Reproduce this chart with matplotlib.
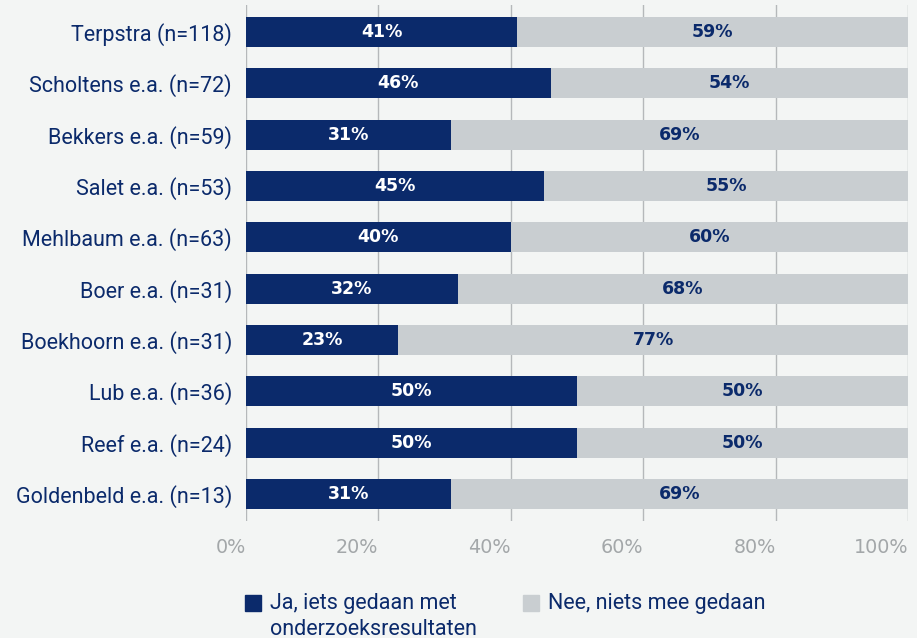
import numpy as np
import matplotlib.pyplot as plt
from matplotlib.patches import Rectangle
from matplotlib.transforms import ScaledTranslation

# data
studies = ["Terpstra (n=118)", "Scholtens e.a. (n=72)", "Bekkers e.a. (n=59)",
           "Salet e.a. (n=53)", "Mehlbaum e.a. (n=63)", "Boer e.a. (n=31)",
           "Boekhoorn e.a. (n=31)", "Lub e.a. (n=36)", "Reef e.a. (n=24)",
           "Goldenbeld e.a. (n=13)"]
ja = [41, 46, 31, 45, 40, 32, 23, 50, 50, 31]
nee = [59, 54, 69, 55, 60, 68, 77, 50, 50, 69]
series_labels = ["Ja, iets gedaan met\nonderzoeksresultaten", "Nee, niets mee gedaan"]
xticks = [0, 20, 40, 60, 80, 100]

navy = "#0b2a6b"
grey = "#c9ced1"
bg = "#f3f5f4"
gridc = "#b5b8ba"
tickc = "#a3a7a9"

plt.rcParams["font.family"] = ["Roboto", "DejaVu Sans"]

fig = plt.figure(figsize=(9.17, 6.38), dpi=100, facecolor=bg)
ax = fig.add_axes([246 / 917, 1 - 521 / 638, 662 / 917, 516 / 638])
ax.set_facecolor(bg)

y = np.arange(len(studies))
ax.barh(y, ja, height=0.58, color=navy, zorder=3)
ax.barh(y, nee, left=ja, height=0.58, color=grey, zorder=3)

for i in range(len(studies)):
    ax.text(ja[i] / 2, y[i], f"{ja[i]}%", ha="center", va="center",
            color="white", fontsize=12.5, fontweight="bold",
            family="DejaVu Sans", zorder=4)
    ax.text(ja[i] + nee[i] / 2, y[i], f"{nee[i]}%", ha="center", va="center",
            color=navy, fontsize=12.5, fontweight="bold",
            family="DejaVu Sans", zorder=4)

ax.set_xlim(0, 100)
ax.set_ylim(len(studies) - 1 + 0.526, -0.526)
ax.set_yticks(y)
ax.set_yticklabels(studies, fontsize=15.5, color=navy)
ax.set_xticks(xticks)
ax.set_xticklabels([f"{t}%" for t in xticks], fontsize=13.8, color=tickc,
                   family="DejaVu Sans", ha="right")
# tick labels end just right of their grid line
shift = ScaledTranslation(3 / 100, 0, fig.dpi_scale_trans)
for lbl in ax.get_xticklabels():
    lbl.set_transform(lbl.get_transform() + shift)
ax.tick_params(axis="y", length=0, pad=10)
ax.tick_params(axis="x", length=0, pad=12.5)
ax.grid(axis="x", color=gridc, linewidth=1, zorder=0)
for s in ax.spines.values():
    s.set_visible(False)

# legend drawn by hand so the box sits on the first text line
fig.patches.append(Rectangle((245 / 917, 1 - 611 / 638), 16 / 917, 16 / 638,
                             transform=fig.transFigure, color=navy))
fig.patches.append(Rectangle((523 / 917, 1 - 611 / 638), 16 / 917, 16 / 638,
                             transform=fig.transFigure, color=grey))
fig.text(270 / 917, 1 - 593 / 638, series_labels[0], fontsize=15.5, color=navy,
         va="top", ha="left", linespacing=1.3)
fig.text(548 / 917, 1 - 593 / 638, series_labels[1], fontsize=15.5, color=navy,
         va="top", ha="left")

fig.savefig("out.png", dpi=100, facecolor=bg)
